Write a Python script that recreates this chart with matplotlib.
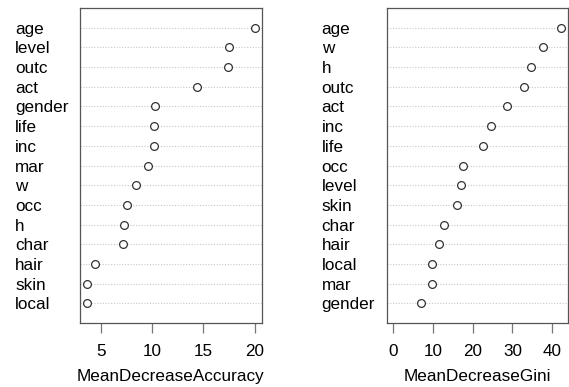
import numpy as np
import matplotlib.pyplot as plt

plt.rcParams['font.family'] = ['Liberation Sans', 'DejaVu Sans']

# variable importance, listed from most to least important
acc_vars = ['age', 'level', 'outc', 'act', 'gender', 'life', 'inc', 'mar',
            'w', 'occ', 'h', 'char', 'hair', 'skin', 'local']
acc_vals = [20.05, 17.49, 17.42, 14.4, 10.27, 10.2, 10.2, 9.59,
            8.38, 7.54, 7.21, 7.15, 4.41, 3.63, 3.62]

gini_vars = ['age', 'w', 'h', 'outc', 'act', 'inc', 'life', 'occ',
             'level', 'skin', 'char', 'hair', 'local', 'mar', 'gender']
gini_vals = [42.2, 37.65, 34.8, 32.9, 28.6, 24.5, 22.7, 17.65,
             17.1, 16.05, 12.77, 11.5, 9.83, 9.66, 7.06]

acc_ticks = [5, 10, 15, 20]
gini_ticks = [0, 10, 20, 30, 40]

W, H = 569, 387
fs = 12.3
fig = plt.figure(figsize=(W / 100, H / 100), dpi=100)
fig.patch.set_facecolor('white')


def dotchart(rect, names, vals, ticks, xlabel, xmin=None):
    ax = fig.add_axes([rect[0] / W, 1 - rect[3] / H,
                       (rect[2] - rect[0]) / W, (rect[3] - rect[1]) / H])
    n = len(vals)
    y = np.arange(n, 0, -1)
    lo = min(vals) if xmin is None else xmin
    hi = max(vals)
    pad = 0.04 * (hi - lo)
    ax.set_xlim(lo - pad, hi + pad)
    ax.set_ylim(0, n + 1)
    for yy in y:
        ax.axhline(yy, ls=(0, (1, 1.5)), color='#c8c8c8', lw=0.8, zorder=1)
    ax.plot(vals, y, 'o', ms=5.6, mfc='white', mec='#333333', mew=0.9,
            zorder=3, clip_on=False)
    ax.set_yticks(y, names)
    ax.tick_params(axis='y', length=0, pad=46.8, labelsize=fs)
    for lab in ax.get_yticklabels():
        lab.set_horizontalalignment('left')
    ax.set_xticks(ticks)
    ax.tick_params(axis='x', length=7, width=0.9, color='#777777',
                   pad=8, labelsize=fs)
    ax.set_xlabel(xlabel, fontsize=fs, labelpad=7)
    for sp in ax.spines.values():
        sp.set_color('#555555')
        sp.set_linewidth(0.9)
    return ax


dotchart((80, 8, 262, 323), acc_vars, acc_vals, acc_ticks,
         'MeanDecreaseAccuracy')
dotchart((386.7, 8, 567.5, 323), gini_vars, gini_vals, gini_ticks,
         'MeanDecreaseGini', xmin=0)

fig.savefig('out.png', dpi=100)
